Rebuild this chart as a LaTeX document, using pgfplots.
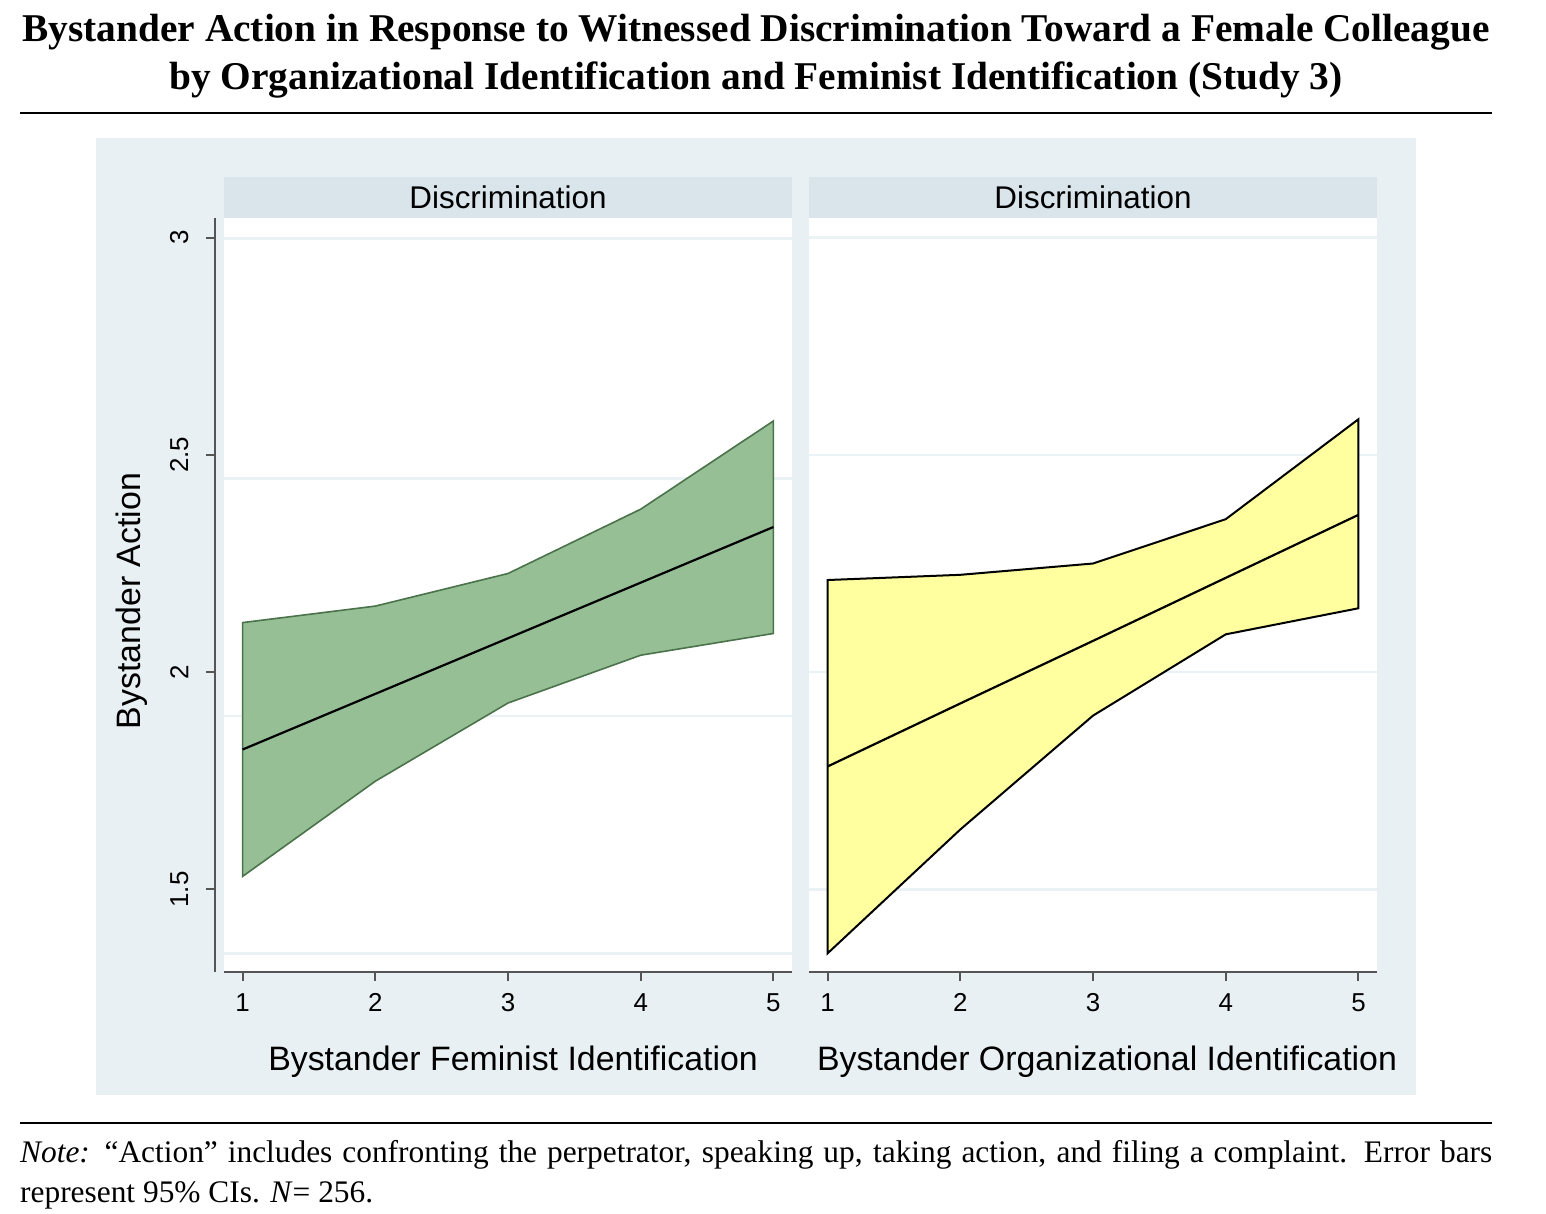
\documentclass[border=0pt]{standalone}
\usepackage{fontspec}
\setmainfont{Liberation Serif}
\newfontfamily\arial{Liberation Sans}
\usepackage{pgfplots}
\pgfplotsset{compat=1.18}
\definecolor{bgc}{RGB}{233,240,243}
\definecolor{stripc}{RGB}{217,228,235}
\definecolor{gridc}{RGB}{234,242,245}
\definecolor{greenfill}{RGB}{151,191,150}
\definecolor{greenedge}{RGB}{75,115,75}
\definecolor{yellowfill}{RGB}{255,255,160}
\definecolor{axisc}{RGB}{85,85,85}

\pgfplotsset{
  panel/.style={
    scale only axis, width=568bp, height=754bp,
    xmin=0.86, xmax=5.14, ymin=1.31, ymax=3.045,
    axis background/.style={fill=white},
    axis x line*=bottom, axis y line*=left,
    axis line style={draw=axisc, line width=2.5bp},
    xtick={1,2,3,4,5},
    tick align=outside, major tick length=9bp,
    tick style={draw=axisc, line width=2bp},
    tick label style={font=\arial\fontsize{26}{26}\selectfont},
    /pgf/number format/assume math mode=true,
    xticklabel style={anchor=north, yshift=-9bp},
    xlabel style={font=\arial\fontsize{34}{34}\selectfont, yshift=-27bp},
    grid style={draw=gridc, line width=2.5bp},
    clip=false,
  }
}

\begin{document}
\begin{tikzpicture}[x=1bp,y=1bp]
\path[use as bounding box] (0,0) rectangle (1546,-1213);
% title
\node[anchor=base, font=\fontsize{39.5}{39.5}\selectfont\bfseries, inner sep=0] at (756,-41) {Bystander Action in Response to Witnessed Discrimination Toward a Female Colleague};
\node[anchor=base, font=\fontsize{39.5}{39.5}\selectfont\bfseries, inner sep=0] at (756,-89) {by Organizational Identification and Feminist Identification (Study 3)};
\draw[line width=2bp] (20,-113) -- (1492,-113);
% graph region
\fill[bgc] (96,-138) rectangle (1416,-1095);
\fill[stripc] (224,-177) rectangle (792,-218);
\fill[stripc] (809,-177) rectangle (1377,-218);
\node[font=\arial\fontsize{31.5}{31.5}\selectfont] at (508,-197) {Discrimination};
\node[font=\arial\fontsize{31.5}{31.5}\selectfont] at (1093,-197) {Discrimination};
\node[rotate=90, font=\arial\fontsize{34}{34}\selectfont] at (132,-601) {Bystander Action};

\begin{axis}[panel, at={(224bp,-972bp)}, anchor=south west,
  axis y line shift=9bp,
  ytick={1.5,2,2.5,3},
  yticklabel style={rotate=90, anchor=south, yshift=14bp},
  extra y ticks={1.353,1.899,2.446,2.998},
  extra y tick labels={},
  extra y tick style={grid=major, major tick length=0bp},
  xlabel={Bystander Feminist Identification},
  xlabel style={xshift=5bp},
]
\addplot[fill=greenfill, draw=greenedge, line width=1.6bp] coordinates {
  (1,2.114) (2,2.152) (3,2.227) (4,2.375) (5,2.578)
  (5,2.089) (4,2.039) (3,1.929) (2,1.749) (1,1.530)} -- cycle;
\addplot[black, line width=2.2bp] coordinates {
  (1,1.822) (2,1.950) (3,2.078) (4,2.206) (5,2.334)};
\end{axis}

\begin{axis}[panel, at={(809bp,-972bp)}, anchor=south west,
  ytick={1.5,2,2.5,3}, yticklabels={},
  ymajorgrids,
  y axis line style={draw=none},
  ytick style={draw=none},
  xlabel={Bystander Organizational Identification},
  xlabel style={xshift=14bp},
]
\addplot[fill=yellowfill, draw=black, line width=2bp] coordinates {
  (1,2.212) (2,2.224) (3,2.250) (4,2.352) (5,2.582)
  (5,2.147) (4,2.087) (3,1.900) (2,1.638) (1,1.353)} -- cycle;
\addplot[black, line width=2.2bp] coordinates {
  (1,1.783) (2,1.928) (3,2.072) (4,2.217) (5,2.362)};
\end{axis}

% bottom rule and note
\draw[line width=2bp] (20,-1123) -- (1492,-1123);
\node[anchor=north west, text width=1472bp, align=justify, inner sep=0,
  font=\fontsize{31.5}{40}\selectfont] at (20,-1140)
  {\textit{Note:} ``Action'' includes confronting the perpetrator, speaking up, taking action, and filing a complaint. Error bars represent 95\% CIs. \textit{N}= 256.};
\end{tikzpicture}
\end{document}
